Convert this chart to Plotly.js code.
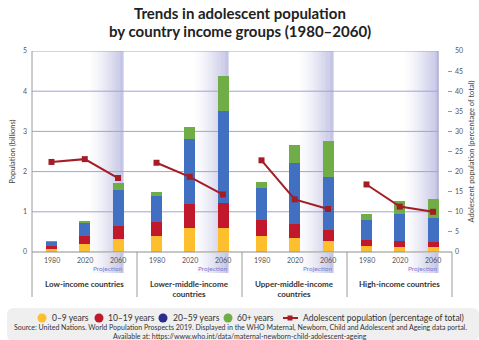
<!DOCTYPE html>
<html>
<head>
<meta charset="utf-8">
<script src="https://cdn.plot.ly/plotly-3.0.1.min.js"></script>
<style>html,body{margin:0;padding:0;background:#fff;}#chart{width:479px;height:340px;}</style>
</head>
<body>
<div id="chart"></div>
<script>
// ---- Data ----
const groups = ['Low-income countries', 'Lower-middle-income<br>countries', 'Upper-middle-income<br>countries', 'High-income countries'];
const years = ['1980', '2020', '2060'];
const age0_9   = [0.08, 0.21, 0.32,  0.41, 0.60, 0.60,  0.39, 0.35, 0.27,  0.14, 0.12, 0.12];
const age10_19 = [0.06, 0.18, 0.33,  0.33, 0.59, 0.63,  0.40, 0.35, 0.28,  0.16, 0.15, 0.13];
const age20_59 = [0.10, 0.33, 0.88,  0.65, 1.62, 2.28,  0.80, 1.52, 1.32,  0.50, 0.68, 0.60];
const age60    = [0.03, 0.05, 0.19,  0.10, 0.29, 0.87,  0.15, 0.43, 0.88,  0.15, 0.31, 0.47];
const adolPct  = [22.4, 23.1, 18.4,  22.2, 18.7, 14.3,  22.8, 13.1, 10.7,  16.8, 11.3, 10.0];
const seriesNames = ['0–9 years', '10–19 years', '20–59 years', '60+ years'];
const lineName = 'Adolescent population (percentage of total)';
const titleLines = ['Trends in adolescent population', 'by country income groups (1980–2060)'];

// ---- Layout helpers ----
const W = 479, H = 340;
const L = 32, R = 452, T = 51, B = 252;
const px = x => (x - L) / (R - L);      // pixel -> paper x
const py = y => (B - y) / (B - T);      // pixel -> paper y
const groupW = 105;
const xpos = (g, i) => g + (19.5 + 33.25 * i) / groupW;
const barW = 11 / groupW;

const xs = [];
groups.forEach((g, gi) => years.forEach((y, yi) => xs.push(xpos(gi, yi))));

const colors = ['#fdbf2d', '#c1182b', '#4170c2', '#70ad47'];
const lineColor = '#a51d24';
const dataSets = [age0_9, age10_19, age20_59, age60];

const traces = dataSets.map((d, k) => ({
  type: 'bar', x: xs, y: d, name: seriesNames[k], width: barW,
  marker: {color: colors[k], line: {width: 0}}, hoverinfo: 'y'
}));

// line with gaps between groups
const lx = [], ly = [];
groups.forEach((g, gi) => {
  years.forEach((y, yi) => { lx.push(xpos(gi, yi)); ly.push(adolPct[gi * 3 + yi]); });
  lx.push(null); ly.push(null);
});
traces.push({
  type: 'scatter', mode: 'lines+markers', x: lx, y: ly, yaxis: 'y2', name: lineName,
  connectgaps: false,
  line: {color: lineColor, width: 2}, marker: {symbol: 'square', size: 6, color: lineColor}
});

const shapes = [];
// projection gradient
const N = 28;
groups.forEach((g, gi) => {
  const x0 = gi + 0.53, x1 = gi + 0.872;
  for (let k = 0; k < N; k++) {
    const t = (k + 1) / N;
    const a = 0.46 * Math.pow(t, 1.5);
    const col = `rgba(120,120,196,${a.toFixed(3)})`;
    shapes.push({type: 'rect', layer: 'below', xref: 'x', yref: 'paper',
      x0: x0 + (x1 - x0) * k / N, x1: x0 + (x1 - x0) * (k + 1) / N,
      y0: 0, y1: 1, fillcolor: col, line: {width: 0}});
    shapes.push({type: 'rect', layer: 'below', xref: 'x', yref: 'paper',
      x0: x0 + (x1 - x0) * k / N, x1: x0 + (x1 - x0) * (k + 1) / N,
      y0: py(253), y1: py(273), fillcolor: col, line: {width: 0}});
  }
});
// gridlines
for (let v = 1; v <= 5; v++) {
  shapes.push({type: 'line', layer: 'below', xref: 'paper', yref: 'y', x0: 0, x1: px(438), y0: v, y1: v,
    line: {color: '#a3a3cf', width: 1}});
}
// right frame
shapes.push({type: 'line', layer: 'below', xref: 'paper', yref: 'paper', x0: px(438), x1: px(438), y0: 0, y1: 1,
  line: {color: '#a3a3cf', width: 1}});
// left axis line + separators
for (let gi = 0; gi <= 4; gi++) {
  shapes.push({type: 'line', xref: 'paper', yref: 'paper', x0: gi / 4, x1: gi / 4,
    y0: gi === 0 ? 1 : 0, y1: py(297), line: {color: '#9a9a9a', width: 1}});
}
// baseline
shapes.push({type: 'line', xref: 'paper', yref: 'paper', x0: 0, x1: 1, y0: 0, y1: 0,
  line: {color: '#8e8e8e', width: 1}});

// legend box (rounded)
(function () {
  const x0 = px(7), x1 = px(479), y0 = py(341), y1 = py(308);
  const rx = 7 / (R - L), ry = 7 / (B - T);
  const p = `M ${x0 + rx},${y1} L ${x1 - rx},${y1} Q ${x1},${y1} ${x1},${y1 - ry} L ${x1},${y0 + ry} Q ${x1},${y0} ${x1 - rx},${y0} L ${x0 + rx},${y0} Q ${x0},${y0} ${x0},${y0 + ry} L ${x0},${y1 - ry} Q ${x0},${y1} ${x0 + rx},${y1} Z`;
  shapes.push({type: 'path', xref: 'paper', yref: 'paper', path: p, fillcolor: '#efefef', line: {width: 0}, layer: 'below'});
})();

const legendCircleColors = ['#fdbf2d', '#c1182b', '#2a2c8c', '#70ad47'];
const legendCx = [42, 99, 163, 228];
const legendTx = [50, 106, 171, 235];
const ly0 = 318, r = 4.5;
legendCircleColors.forEach((c, k) => {
  shapes.push({type: 'circle', xref: 'paper', yref: 'paper',
    x0: px(legendCx[k] - r), x1: px(legendCx[k] + r), y0: py(ly0 + r), y1: py(ly0 - r),
    fillcolor: c, line: {width: 0}});
});
shapes.push({type: 'line', xref: 'paper', yref: 'paper', x0: px(283), x1: px(298), y0: py(ly0), y1: py(ly0),
  line: {color: lineColor, width: 2}});
shapes.push({type: 'rect', xref: 'paper', yref: 'paper', x0: px(287.5), x1: px(292.5), y0: py(ly0 + 2.5), y1: py(ly0 - 2.5),
  fillcolor: lineColor, line: {width: 0}});

const FONT = 'Lato, "Open Sans", sans-serif';
const annotations = [];
// title (two centered lines)
titleLines.forEach((t, k) => {
  annotations.push({xref: 'paper', yref: 'paper', x: px(240), y: py(13 + 18 * k), text: '<b>' + t + '</b>',
    showarrow: false, font: {family: FONT, size: 15, color: '#222'}, xanchor: 'center', yanchor: 'middle'});
});
groups.forEach((g, gi) => {
  years.forEach((y, yi) => {
    annotations.push({xref: 'x', yref: 'paper', x: xpos(gi, yi), y: py(260), text: y, showarrow: false,
      font: {family: FONT, size: 7, color: '#555'}, xanchor: 'center', yanchor: 'middle'});
  });
  annotations.push({xref: 'x', yref: 'paper', x: gi + 0.72, y: py(268.5), text: 'Projection', showarrow: false,
    font: {family: FONT, size: 6.5, color: '#7a7ad2'}, xanchor: 'center', yanchor: 'middle'});
  annotations.push({xref: 'x', yref: 'paper', x: gi + 0.5, y: py(276.5), text: '<b>' + g + '</b>', showarrow: false,
    font: {family: FONT, size: 8, color: '#333'}, xanchor: 'center', yanchor: 'top'});
});
seriesNames.forEach((s, k) => {
  annotations.push({xref: 'paper', yref: 'paper', x: px(legendTx[k]), y: py(ly0), text: s, showarrow: false,
    font: {family: FONT, size: 8.5, color: '#333'}, xanchor: 'left', yanchor: 'middle'});
});
annotations.push({xref: 'paper', yref: 'paper', x: px(301), y: py(ly0), text: lineName, showarrow: false,
  font: {family: FONT, size: 8.5, color: '#333'}, xanchor: 'left', yanchor: 'middle'});
annotations.push({xref: 'paper', yref: 'paper', x: px(240), y: py(327.5),
  text: 'Source: United Nations. World Population Prospects 2019. Displayed in the WHO Maternal, Newborn, Child and Adolescent and Ageing data portal.',
  showarrow: false, font: {family: FONT, size: 7, color: '#333'}, xanchor: 'center', yanchor: 'middle'});
annotations.push({xref: 'paper', yref: 'paper', x: px(240), y: py(335.5),
  text: 'Available at: https://www.who.int/data/maternal-newborn-child-adolescent-ageing',
  showarrow: false, font: {family: FONT, size: 7, color: '#333'}, xanchor: 'center', yanchor: 'middle'});

const layout = {
  width: W, height: H,
  margin: {l: L, r: W - R, t: T, b: H - B, pad: 0},
  paper_bgcolor: '#fff', plot_bgcolor: 'rgba(0,0,0,0)',
  barmode: 'stack', bargap: 0, showlegend: false,
  font: {family: FONT},
  xaxis: {range: [0, 4], showgrid: false, zeroline: false, showticklabels: false, ticks: '', showline: false, fixedrange: true},
  yaxis: {range: [0, 5], dtick: 1, showgrid: false, zeroline: false, showline: false, ticks: '',
    tickfont: {family: FONT, size: 7, color: '#555'}, ticklabelstandoff: 4,
    title: {text: 'Population (billions)', font: {family: FONT, size: 7.5, color: '#444'}, standoff: 6}},
  yaxis2: {range: [0, 50], dtick: 5, overlaying: 'y', side: 'right', anchor: 'x', showgrid: false, zeroline: false,
    showline: false, ticks: 'inside', ticklen: 4, tickcolor: '#999',
    tickfont: {family: FONT, size: 7, color: '#555'}, ticklabelstandoff: 2,
    title: {text: 'Adolescent population (percentage of total)', font: {family: FONT, size: 7.5, color: '#444'}, standoff: 6}},
  shapes: shapes, annotations: annotations
};

Plotly.newPlot('chart', traces, layout, {displayModeBar: false, staticPlot: true});
</script>
</body>
</html>
